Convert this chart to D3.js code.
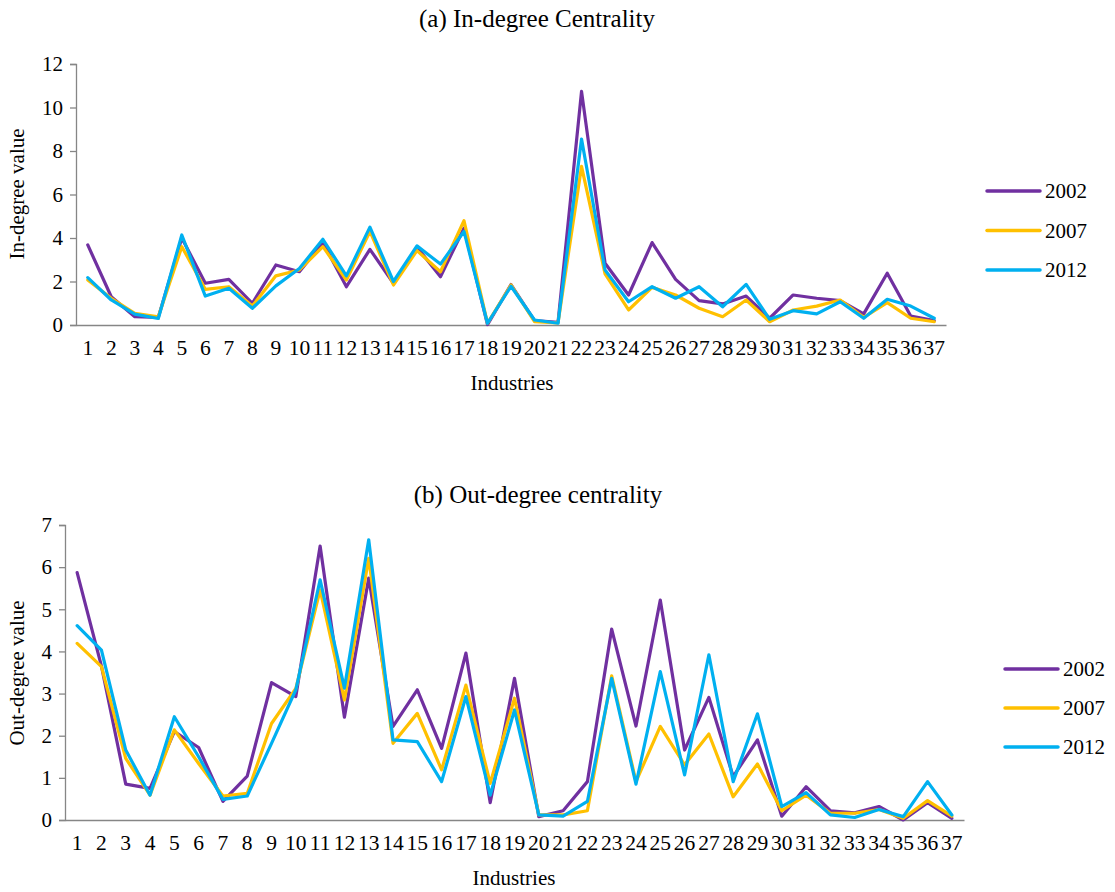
<!DOCTYPE html>
<html>
<head>
<meta charset="utf-8">
<script src="https://cdn.jsdelivr.net/npm/d3@7"></script>
<style>
  html, body { margin: 0; padding: 0; background: #fff; }
  svg { display: block; }
  svg text { font-family: "Liberation Serif", "Tinos", "Times New Roman", "DejaVu Serif", serif; }
</style>
</head>
<body>
<svg id="chart" width="1115" height="892"></svg>
<script>
const industries = d3.range(1, 38).map(String);
const seriesNames = ["2002", "2007", "2012"];
const seriesColors = ["#7030A0", "#FFC000", "#00B0F0"];

const inTicks = [0, 2, 4, 6, 8, 10, 12];
const outTicks = [0, 1, 2, 3, 4, 5, 6, 7];

const in2002 = [3.68, 1.3, 0.38, 0.35, 4.0, 1.92, 2.1, 1.0, 2.76, 2.45, 3.79, 1.76, 3.48, 1.92, 3.58, 2.22, 4.45, 0.02, 1.86, 0.2, 0.12, 10.74, 2.84, 1.38, 3.79, 2.1, 1.12, 0.97, 1.33, 0.31, 1.38, 1.23, 1.12, 0.51, 2.38, 0.41, 0.2];
const in2007 = [2.07, 1.23, 0.54, 0.38, 3.6, 1.64, 1.76, 0.87, 2.26, 2.53, 3.6, 2.07, 4.3, 1.84, 3.42, 2.45, 4.8, 0.08, 1.84, 0.15, 0.1, 7.29, 2.35, 0.69, 1.73, 1.38, 0.77, 0.38, 1.15, 0.15, 0.69, 0.87, 1.15, 0.35, 1.03, 0.31, 0.15];
const in2012 = [2.18, 1.15, 0.5, 0.3, 4.14, 1.33, 1.69, 0.77, 1.8, 2.6, 3.94, 2.26, 4.5, 2.0, 3.64, 2.8, 4.3, 0.08, 1.78, 0.23, 0.08, 8.55, 2.53, 1.07, 1.76, 1.23, 1.76, 0.84, 1.87, 0.26, 0.66, 0.51, 1.07, 0.31, 1.18, 0.87, 0.31];

const out2002 = [5.87, 3.65, 0.85, 0.75, 2.1, 1.72, 0.44, 1.04, 3.26, 2.93, 6.5, 2.44, 5.74, 2.22, 3.09, 1.7, 3.96, 0.41, 3.36, 0.08, 0.22, 0.91, 4.53, 2.23, 5.22, 1.66, 2.91, 1.03, 1.9, 0.09, 0.79, 0.22, 0.17, 0.32, 0.0, 0.41, 0.04];
const out2007 = [4.19, 3.64, 1.46, 0.59, 2.14, 1.34, 0.57, 0.63, 2.29, 3.12, 5.46, 2.85, 6.21, 1.82, 2.53, 1.19, 3.2, 0.87, 2.89, 0.12, 0.12, 0.22, 3.42, 0.91, 2.22, 1.31, 2.04, 0.55, 1.33, 0.22, 0.59, 0.16, 0.16, 0.25, 0.04, 0.46, 0.09];
const out2012 = [4.61, 4.03, 1.66, 0.59, 2.45, 1.5, 0.49, 0.57, 1.82, 3.09, 5.7, 3.13, 6.65, 1.9, 1.86, 0.91, 2.93, 0.59, 2.61, 0.12, 0.09, 0.44, 3.36, 0.85, 3.52, 1.07, 3.92, 0.91, 2.52, 0.32, 0.65, 0.12, 0.06, 0.25, 0.08, 0.91, 0.12];

const FONT = '"Liberation Serif", "Tinos", "Times New Roman", "DejaVu Serif", serif';
const svg = d3.select("#chart");

function drawPanel(cfg) {
  const x = d3.scaleBand().domain(industries).range([cfg.x0, cfg.x1]).padding(0);
  const y = d3.scaleLinear().domain([0, cfg.ymax]).range([cfg.y0, cfg.y1]);
  const g = svg.append("g");

  g.append("text").attr("x", cfg.titleX).attr("y", cfg.titleY)
    .attr("text-anchor", "middle").attr("font-size", 25).attr("fill", "#000")
    .style("font-family", FONT)
    .text(cfg.title);

  const ya = g.append("g").attr("transform", `translate(${cfg.x0},0)`)
    .call(d3.axisLeft(y).tickValues(cfg.ticks).tickSize(6).tickPadding(7).tickFormat(d3.format("d")));
  ya.attr("font-family", null).attr("font-size", null);
  ya.select(".domain").attr("stroke", "#868686").attr("stroke-width", 1.3);
  ya.selectAll(".tick line").attr("stroke", "#868686").attr("stroke-width", 1.3);
  ya.selectAll(".tick text").attr("font-size", 21).attr("fill", "#000").style("font-family", FONT);

  const xa = g.append("g").attr("transform", `translate(0,${cfg.y0})`)
    .call(d3.axisBottom(x).tickSize(0).tickPadding(15));
  xa.attr("font-family", null).attr("font-size", null);
  xa.select(".domain").attr("stroke", "#868686").attr("stroke-width", 1.6);
  xa.selectAll(".tick text").attr("font-size", 21.5).attr("fill", "#000").style("font-family", FONT);

  g.append("text").attr("transform", `translate(${cfg.ylabX},${cfg.ylabY}) rotate(-90)`)
    .attr("text-anchor", "middle").attr("font-size", 21).attr("fill", "#000")
    .style("font-family", FONT)
    .text(cfg.ylabel);
  g.append("text").attr("x", cfg.xlabX).attr("y", cfg.xlabY)
    .attr("text-anchor", "middle").attr("font-size", 21).attr("fill", "#000")
    .style("font-family", FONT)
    .text("Industries");

  const line = d3.line()
    .x((d, i) => x(industries[i]) + x.bandwidth() / 2)
    .y(d => y(d));

  cfg.series.forEach((s, k) => {
    g.append("path").datum(s)
      .attr("fill", "none").attr("stroke", seriesColors[k])
      .attr("stroke-width", 3.2).attr("stroke-linejoin", "round")
      .attr("stroke-linecap", "round").attr("d", line);
  });

  seriesNames.forEach((n, k) => {
    const ly = cfg.legY + k * cfg.legStep;
    g.append("line").attr("x1", cfg.legX).attr("x2", cfg.legX + 53)
      .attr("y1", ly).attr("y2", ly).attr("stroke", seriesColors[k])
      .attr("stroke-width", 3.5).attr("stroke-linecap", "round");
    g.append("text").attr("x", cfg.legX + 58).attr("y", ly).attr("dy", "0.35em")
      .attr("font-size", 21).attr("fill", "#000").style("font-family", FONT).text(n);
  });
}

drawPanel({
  title: "(a) In-degree Centrality", titleX: 537, titleY: 27,
  x0: 76, x1: 946, y0: 325, y1: 64, ymax: 12, ticks: inTicks,
  ylabel: "In-degree value", ylabX: 24, ylabY: 194,
  xlabX: 512, xlabY: 390,
  series: [in2002, in2007, in2012],
  legX: 987, legY: 191, legStep: 39.5
});

drawPanel({
  title: "(b) Out-degree centrality", titleX: 538, titleY: 503,
  x0: 65, x1: 964, y0: 820, y1: 525, ymax: 7, ticks: outTicks,
  ylabel: "Out-degree value", ylabX: 24, ylabY: 673,
  xlabX: 514, xlabY: 885,
  series: [out2002, out2007, out2012],
  legX: 1005, legY: 669, legStep: 39
});
</script>
</body>
</html>
